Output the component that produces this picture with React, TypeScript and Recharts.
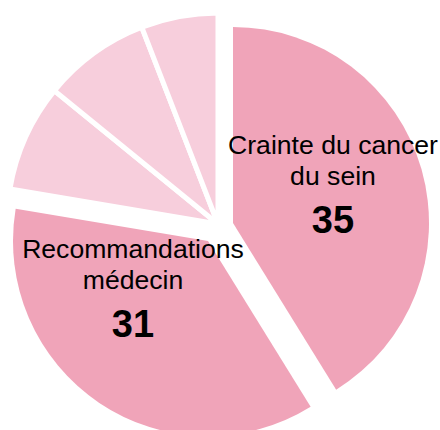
import { PieChart, Pie, Cell } from "recharts";

// Motifs — répartition (pie éclaté, départ à midi, sens horaire)
const categories = [
  "Crainte du cancer du sein",
  "Recommandations médecin",
  "Antécédents familiaux",
  "Symptômes",
  "Autres",
];
const values = [35, 31, 7, 7, 5];
const labelLines = [["Crainte du cancer", "du sein"], ["Recommandations", "médecin"], [], [], []];

const DARK = "#F0A4B9";
const LIGHT = "#F7CEDC";
const colors = [DARK, DARK, LIGHT, LIGHT, LIGHT];

const data = categories.map((name, i) => ({ name, value: values[i] }));

// each group is drawn as its own Pie, pulled out from the centre
const groups = [
  { members: [2, 3, 4], cx: 218, cy: 224, r: 211, stroke: 5, lx: 0, ly: 0 },
  { members: [0], cx: 233, cy: 223, r: 196, stroke: 0, lx: 100, ly: -69 },
  { members: [1], cx: 208, cy: 241, r: 195, stroke: 0, lx: -75, ly: 17 },
];

const FONT = "'Liberation Sans', Arial, Helvetica, sans-serif";

function makeLabel(members: number[], cx: number, cy: number, lx: number, ly: number) {
  return (props: any) => {
    const i = props.index;
    if (!members.includes(i) || labelLines[i].length === 0) return <g key={`l-${i}`} />;
    const x = cx + lx;
    const y = cy + ly;
    return (
      <g key={`l-${i}`}>
        {labelLines[i].map((line, k) => (
          <text
            key={k}
            x={x}
            y={y + k * 31}
            textAnchor="middle"
            fontSize={26.6}
            fontFamily={FONT}
            fill="#000"
          >
            {line}
          </text>
        ))}
        <text
          x={x}
          y={y + 79}
          textAnchor="middle"
          fontSize={38}
          fontWeight="bold"
          fontFamily={FONT}
          fill="#000"
        >
          {values[i]}
        </text>
      </g>
    );
  };
}

export default function App() {
  return (
    <div style={{ position: "absolute", left: 0, top: 0, background: "#fff" }}>
      <PieChart width={440} height={430} margin={{ top: 0, right: 0, bottom: 0, left: 0 }}>
        {groups.map((g, gi) => (
          <Pie
            key={gi}
            data={data}
            dataKey="value"
            nameKey="name"
            cx={g.cx}
            cy={g.cy}
            outerRadius={g.r}
            startAngle={90}
            endAngle={-270}
            labelLine={false}
            label={makeLabel(g.members, g.cx, g.cy, g.lx, g.ly)}
            isAnimationActive={false}
          >
            {data.map((_, i) => {
              const on = g.members.includes(i);
              return (
                <Cell
                  key={i}
                  fill={on ? colors[i] : "none"}
                  stroke={on && g.stroke > 0 ? "#fff" : "none"}
                  strokeWidth={g.stroke}
                />
              );
            })}
          </Pie>
        ))}
      </PieChart>
    </div>
  );
}
